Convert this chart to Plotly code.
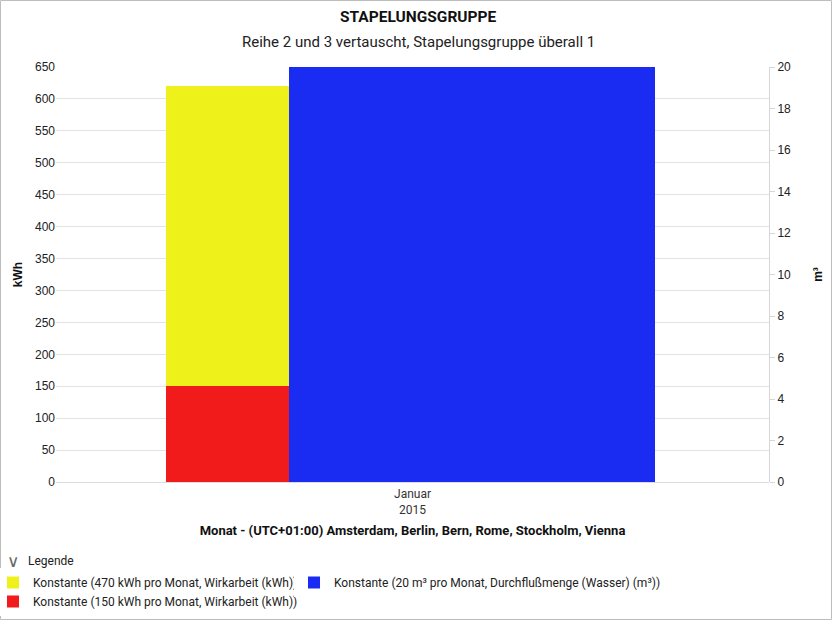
import plotly.graph_objects as go

# chart data
categories = ["Januar<br>2015"]
red_kwh = [150]
yellow_kwh = [470]
blue_m3 = [20]

names = [
    "Konstante (150 kWh pro Monat, Wirkarbeit (kWh))",
    "Konstante (470 kWh pro Monat, Wirkarbeit (kWh))",
    "Konstante (20 m³ pro Monat, Durchflußmenge (Wasser) (m³))",
]

FONT = "Roboto, sans-serif"
NUMFONT = "Liberation Sans, Arial, sans-serif"
PLOT_W, PLOT_H = 713, 415

fig = go.Figure()

fig.add_trace(go.Bar(x=categories, y=red_kwh, name=names[0], marker_color="#f21b1b",
                     marker_line_width=0, offset=-0.3457, width=0.1725,
                     legendrank=2, legendgroup="r"))
fig.add_trace(go.Bar(x=categories, y=yellow_kwh, name=names[1], marker_color="#eef21a",
                     marker_line_width=0, offset=-0.3457, width=0.1725,
                     legendrank=1, legendgroup="y"))
fig.add_trace(go.Bar(x=categories, y=blue_m3, name=names[2], marker_color="#1b2cf2",
                     marker_line_width=0, offset=-0.1732, width=0.513, yaxis="y2",
                     legend="legend2"))

fig.update_layout(
    width=832, height=620,
    barmode="stack",
    plot_bgcolor="white", paper_bgcolor="white",
    margin=dict(l=56, r=63, t=67, b=138, autoexpand=False),
    font=dict(family=FONT, size=12, color="#222"),
    xaxis=dict(type="category", range=[-0.5, 0.5], showgrid=False,
               tickfont=dict(family=FONT, size=12, color="#333"), ticklabelstandoff=3,
               title=dict(text="<b>Monat - (UTC+01:00) Amsterdam, Berlin, Bern, Rome, Stockholm, Vienna</b>",
                          font=dict(family=FONT, size=13, color="#111"), standoff=10),
               ticks="", showline=False, automargin=False),
    yaxis=dict(range=[0, 650], dtick=50, gridcolor="#e3e3e3", zeroline=True,
               zerolinecolor="#dcdcdc", zerolinewidth=1, automargin=False,
               tickfont=dict(family=NUMFONT, size=12, color="#222"),
               title=dict(text="<b>kWh</b>", font=dict(family=NUMFONT, size=12, color="#111"),
                          standoff=9)),
    yaxis2=dict(range=[0, 20], dtick=2, overlaying="y", side="right", showgrid=False,
                zeroline=False, showline=True, linecolor="#d6d6d6", ticks="outside",
                ticklen=5, tickcolor="#d6d6d6", automargin=False,
                tickfont=dict(family=NUMFONT, size=12, color="#222"),
                title=dict(text="<b>m³</b>", font=dict(family=NUMFONT, size=12, color="#111"),
                           standoff=23)),
    legend=dict(orientation="v", x=-63 / PLOT_W, xanchor="left", y=-(568 - 482) / PLOT_H,
                yanchor="top", traceorder="normal", tracegroupgap=5,
                font=dict(family=FONT, size=12, color="#222")),
    legend2=dict(orientation="v", x=(294 - 56) / PLOT_W, xanchor="left",
                 y=-(568 - 482) / PLOT_H, yanchor="top",
                 font=dict(family=FONT, size=12, color="#222")),
    annotations=[
        dict(text="<b>STAPELUNGSGRUPPE</b>", x=(418 - 56) / PLOT_W, xref="paper", xanchor="center",
             y=1 + (67 - 17) / PLOT_H, yref="paper", yanchor="middle",
             showarrow=False, font=dict(family=FONT, size=15.5, color="#111")),
        dict(text="Reihe 2 und 3 vertauscht, Stapelungsgruppe überall 1", x=(418 - 56) / PLOT_W,
             xref="paper", xanchor="center", y=1 + (67 - 42) / PLOT_H, yref="paper",
             yanchor="middle", showarrow=False, font=dict(family=FONT, size=15, color="#222")),
        dict(text="∨", x=-51 / PLOT_W, xref="paper", xanchor="left",
             y=-(561 - 482) / PLOT_H, yref="paper", yanchor="middle",
             showarrow=False, font=dict(family="DejaVu Sans", size=17, color="#666")),
        dict(text="Legende", x=-30 / PLOT_W, xref="paper", xanchor="left",
             y=-(561 - 482) / PLOT_H, yref="paper", yanchor="middle",
             showarrow=False, font=dict(family=FONT, size=12, color="#222")),
    ],
)

# outer frame
fig.add_shape(type="rect", xref="paper", yref="paper",
              x0=-55.5 / PLOT_W, x1=1 + 62.5 / PLOT_W, y0=-137.5 / PLOT_H, y1=1 + 66.5 / PLOT_H,
              line=dict(color="#bdbdbd", width=1))

fig.write_html("out.html", config={"displayModeBar": False},
               post_script="document.body.style.margin='0';")
